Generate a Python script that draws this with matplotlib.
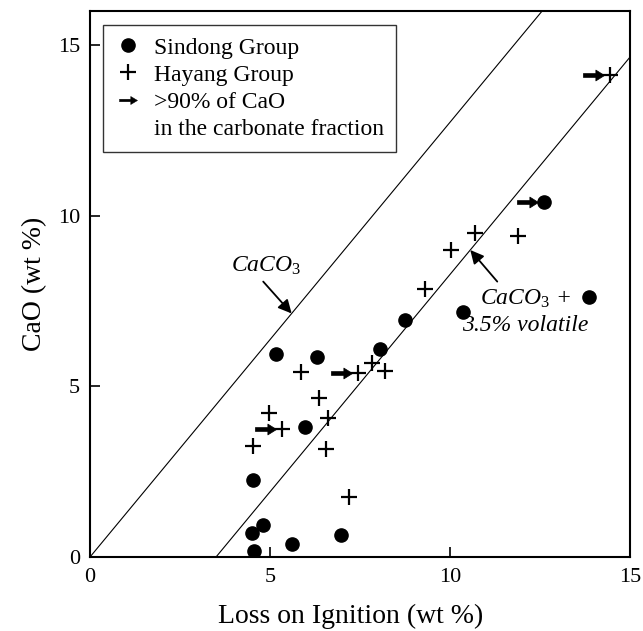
import numpy as np
import matplotlib
matplotlib.use('Agg')
import matplotlib.pyplot as plt
from matplotlib.path import Path
from matplotlib.lines import Line2D

plt.rcParams['font.family'] = ['Liberation Serif', 'DejaVu Serif']
plt.rcParams['mathtext.fontset'] = 'custom'
plt.rcParams['mathtext.rm'] = 'Liberation Serif'
plt.rcParams['mathtext.it'] = 'Liberation Serif:italic'

# Sindong Group (filled circles): loss on ignition, CaO
sindong_loi = [4.52, 4.49, 4.80, 4.56, 5.62, 6.96, 5.97, 5.17, 6.30, 8.06, 8.75, 10.37, 12.62, 13.87]
sindong_cao = [2.26, 0.71, 0.94, 0.18, 0.38, 0.65, 3.82, 5.94, 5.87, 6.10, 6.93, 7.19, 10.39, 7.61]
sindong_carb = [False] * 12 + [True, False]

# Hayang Group (plus markers)
hayang_loi = [14.43, 10.69, 11.88, 10.02, 9.31, 8.19, 7.45, 7.82, 5.86, 6.37, 6.62, 4.98, 5.32, 4.54, 6.56, 7.18]
hayang_cao = [14.11, 9.49, 9.41, 9.00, 7.85, 5.46, 5.39, 5.68, 5.43, 4.65, 4.07, 4.21, 3.75, 3.26, 3.16, 1.77]
hayang_carb = [True, False, False, False, False, False, True, False, False, False, False, False, True, False, False, False]

# CaO / CO2 mass ratio of calcite
ratio = 56.08 / 44.01
volatile = 3.5


def arrow_path(x0, x1, shaft=0.07, head=0.2, head_len=0.32):
    verts = [(x0, -shaft), (x1 - head_len, -shaft), (x1 - head_len, -head), (x1, 0),
             (x1 - head_len, head), (x1 - head_len, shaft), (x0, shaft), (x0, -shaft)]
    codes = [Path.MOVETO] + [Path.LINETO] * 6 + [Path.CLOSEPOLY]
    return Path(verts, codes)


# arrow sitting to the left of the point it flags
flag_marker = arrow_path(-1.0, -0.22)
legend_marker = arrow_path(-1.0, 1.0, shaft=0.14, head=0.45, head_len=0.75)

fig = plt.figure(figsize=(6.43, 6.31), dpi=100)
ax = fig.add_axes([0.140, 0.1173, 0.840, 0.8653])

xl = np.array([0, 15])
ax.plot(xl, ratio * xl, color='black', lw=0.8)
ax.plot(xl, ratio * (xl - volatile), color='black', lw=0.8)

ax.plot(sindong_loi, sindong_cao, 'o', color='black', ms=9.5, ls='none')
ax.plot(hayang_loi, hayang_cao, '+', color='black', ms=12, mew=1.6, ls='none')

fx = [x for x, c in zip(sindong_loi, sindong_carb) if c] + [x for x, c in zip(hayang_loi, hayang_carb) if c]
fy = [y for y, c in zip(sindong_cao, sindong_carb) if c] + [y for y, c in zip(hayang_cao, hayang_carb) if c]
ax.plot(fx, fy, marker=flag_marker, color='black', ms=39, ls='none', mew=0.5)

arrow_kw = dict(arrowstyle='-|>', color='black', lw=1.3, mutation_scale=20, shrinkA=0, shrinkB=0)
ax.text(4.89, 8.53, r'$CaCO_3$', ha='center', va='center', fontsize=17)
ax.annotate('', xy=(5.60, ratio * 5.60), xytext=(4.81, 8.07), arrowprops=arrow_kw)
ax.annotate('', xy=(10.56, ratio * (10.56 - volatile)), xytext=(11.31, 8.07), arrowprops=arrow_kw)
ax.text(12.08, 7.57, r'$CaCO_3$ +', ha='center', va='center', fontsize=17, style='italic')
ax.text(12.08, 6.77, '3.5% volatile', ha='center', va='center', fontsize=17, style='italic')

ax.set_xlim(0, 15)
ax.set_ylim(0, 16)
ax.set_xticks([0, 5, 10, 15])
ax.set_yticks([0, 5, 10, 15])
ax.tick_params(direction='in', length=7, width=1.2, labelsize=16, top=False, right=False)
ax.tick_params(axis='x', pad=8)
ax.tick_params(axis='y', pad=7)
for s in ax.spines.values():
    s.set_linewidth(1.5)

ax.set_xlabel('Loss on Ignition (wt %)', fontsize=20)
ax.xaxis.set_label_coords(0.482, -0.085)
ax.set_ylabel('CaO (wt %)', fontsize=20, labelpad=8)

handles = [
    Line2D([], [], marker='o', color='black', ls='none', ms=9.5),
    Line2D([], [], marker='+', color='black', ls='none', ms=12, mew=1.6),
    Line2D([], [], marker=legend_marker, color='black', ls='none', ms=13, mew=0.3),
    Line2D([], [], ls='none'),
]
labels = ['Sindong Group', 'Hayang Group', '>90% of CaO', 'in the carbonate fraction']
leg = ax.legend(handles, labels, loc='upper left', bbox_to_anchor=(0.024, 0.974),
                fontsize=17, frameon=True, fancybox=False, edgecolor='black',
                handlelength=1.1, handletextpad=0.55, labelspacing=0.24,
                borderpad=0.5, borderaxespad=0)
leg.get_frame().set_linewidth(1.0)

fig.savefig('out.png', dpi=100)
